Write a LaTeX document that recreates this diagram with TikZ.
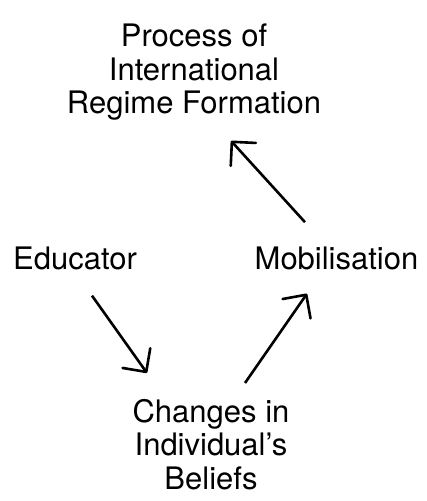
\documentclass[tikz,border=0pt]{standalone}
\usepackage{fontspec}
\setmainfont{TeX Gyre Heros}
\usetikzlibrary{arrows.meta, calc}

\begin{document}
\begin{tikzpicture}[x=1pt, y=1pt,
    lbl/.style={align=center, inner sep=0pt, font=\fontsize{31}{33.5}\selectfont},
    arr/.style={line width=2.6pt, -{Straight Barb[length=17pt, width=34pt, round]}}]
    \useasboundingbox (0,0) rectangle (427,501);
    \node[lbl, anchor=north] (regime) at (194,477) {Process of\\International\\Regime Formation};
    \node[lbl, anchor=base] (educ) at (75,231) {Educator};
    \node[lbl, anchor=base] (mob) at (336.5,231) {Mobilisation};
    \node[lbl, anchor=north] (chg) at (211,102) {Changes in\\Individual's\\Beliefs};
    \draw[arr] ($(educ.south)+(17,-25)$) -- ($(chg.north)+(-64,26)$);
    \draw[arr] ($(chg.north)+(34,16)$) -- ($(mob.south)+(-29.5,-23)$);
    \draw[arr] ($(mob.north)+(-31.5,25)$) -- ($(regime.south)+(37,-20)$);
\end{tikzpicture}
\end{document}
